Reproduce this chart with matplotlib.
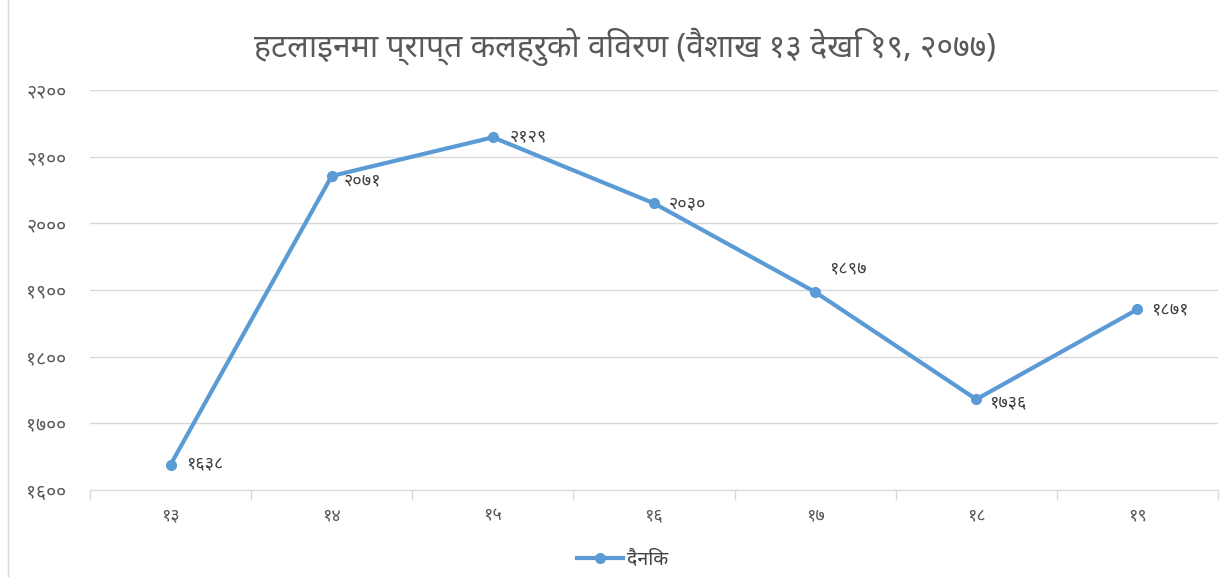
import matplotlib
matplotlib.use("Agg")
import matplotlib.pyplot as plt
from matplotlib.lines import Line2D

# data
days = ["१३", "१४", "१५", "१६", "१७", "१८", "१९"]
calls = [1638, 2071, 2129, 2030, 1897, 1736, 1871]
yticks = [1600, 1700, 1800, 1900, 2000, 2100, 2200]
title = "हटलाइनमा प्राप्त कलहरुको विवरण (वैशाख १३ देखि १९, २०७७)"
series_name = "दैनिक"

DEV = str.maketrans("0123456789", "०१२३४५६७८९")
def dev(n):
    return str(n).translate(DEV)

plt.rcParams['font.family'] = ['Noto Sans', 'DejaVu Sans']

fig = plt.figure(figsize=(12.28, 5.77), dpi=100)
ax = fig.add_axes([90/1228, 1 - 490/577, 1128/1228, 400/577])

blue = "#5B9BD5"
x = list(range(len(days)))
ax.plot(x, calls, color=blue, lw=3, marker="o", ms=7, solid_capstyle="round")

# data labels
offsets = [(11, 0), (9, -3), (12, 1), (11, 0), (10, 17), (9, -2), (10, 0)]
for i, v in enumerate(calls):
    dx, dy = offsets[i]
    ax.annotate(dev(v), (i, v), xytext=(dx, dy), textcoords="offset points",
                ha="left", va="center", fontsize=13, color="#404040")

ax.set_xlim(-0.5, len(days) - 0.5)
ax.set_ylim(1600, 2200)
ax.set_yticks(yticks)
ax.set_yticklabels([dev(t) for t in yticks], fontsize=14, color="#595959")
ax.set_xticks(x)
ax.set_xticklabels(days, fontsize=13, color="#595959", fontweight="bold")
ax.tick_params(axis="y", length=0, pad=17)
ax.tick_params(axis="x", length=0, pad=12)
# boundary tick marks between categories
ax.set_xticks([b - 0.5 for b in range(len(days) + 1)], minor=True)
ax.tick_params(axis="x", which="minor", length=7, color="#d9d9d9", width=1)

ax.grid(axis="y", color="#d9d9d9", lw=1)
ax.set_axisbelow(True)
for s in ["top", "right", "left"]:
    ax.spines[s].set_visible(False)
ax.spines["bottom"].set_color("#d9d9d9")

fig.text(0.509, 1 - 47/577, title, ha="center", va="center", fontsize=23,
         fontweight="bold", color="#595959")

handle = Line2D([0], [0], color=blue, lw=3, marker="o", ms=7)
fig.legend([handle], [series_name], loc="center", bbox_to_anchor=(0.507, 1 - 560/577),
           frameon=False, fontsize=14, handlelength=2.4, handletextpad=0.2,
           labelcolor="#404040")

# left border of chart area
fig.add_artist(Line2D([8/1228, 8/1228], [0, 1], color="#d9d9d9", lw=1,
                      transform=fig.transFigure))

fig.savefig("out.png", dpi=100, facecolor="white")
